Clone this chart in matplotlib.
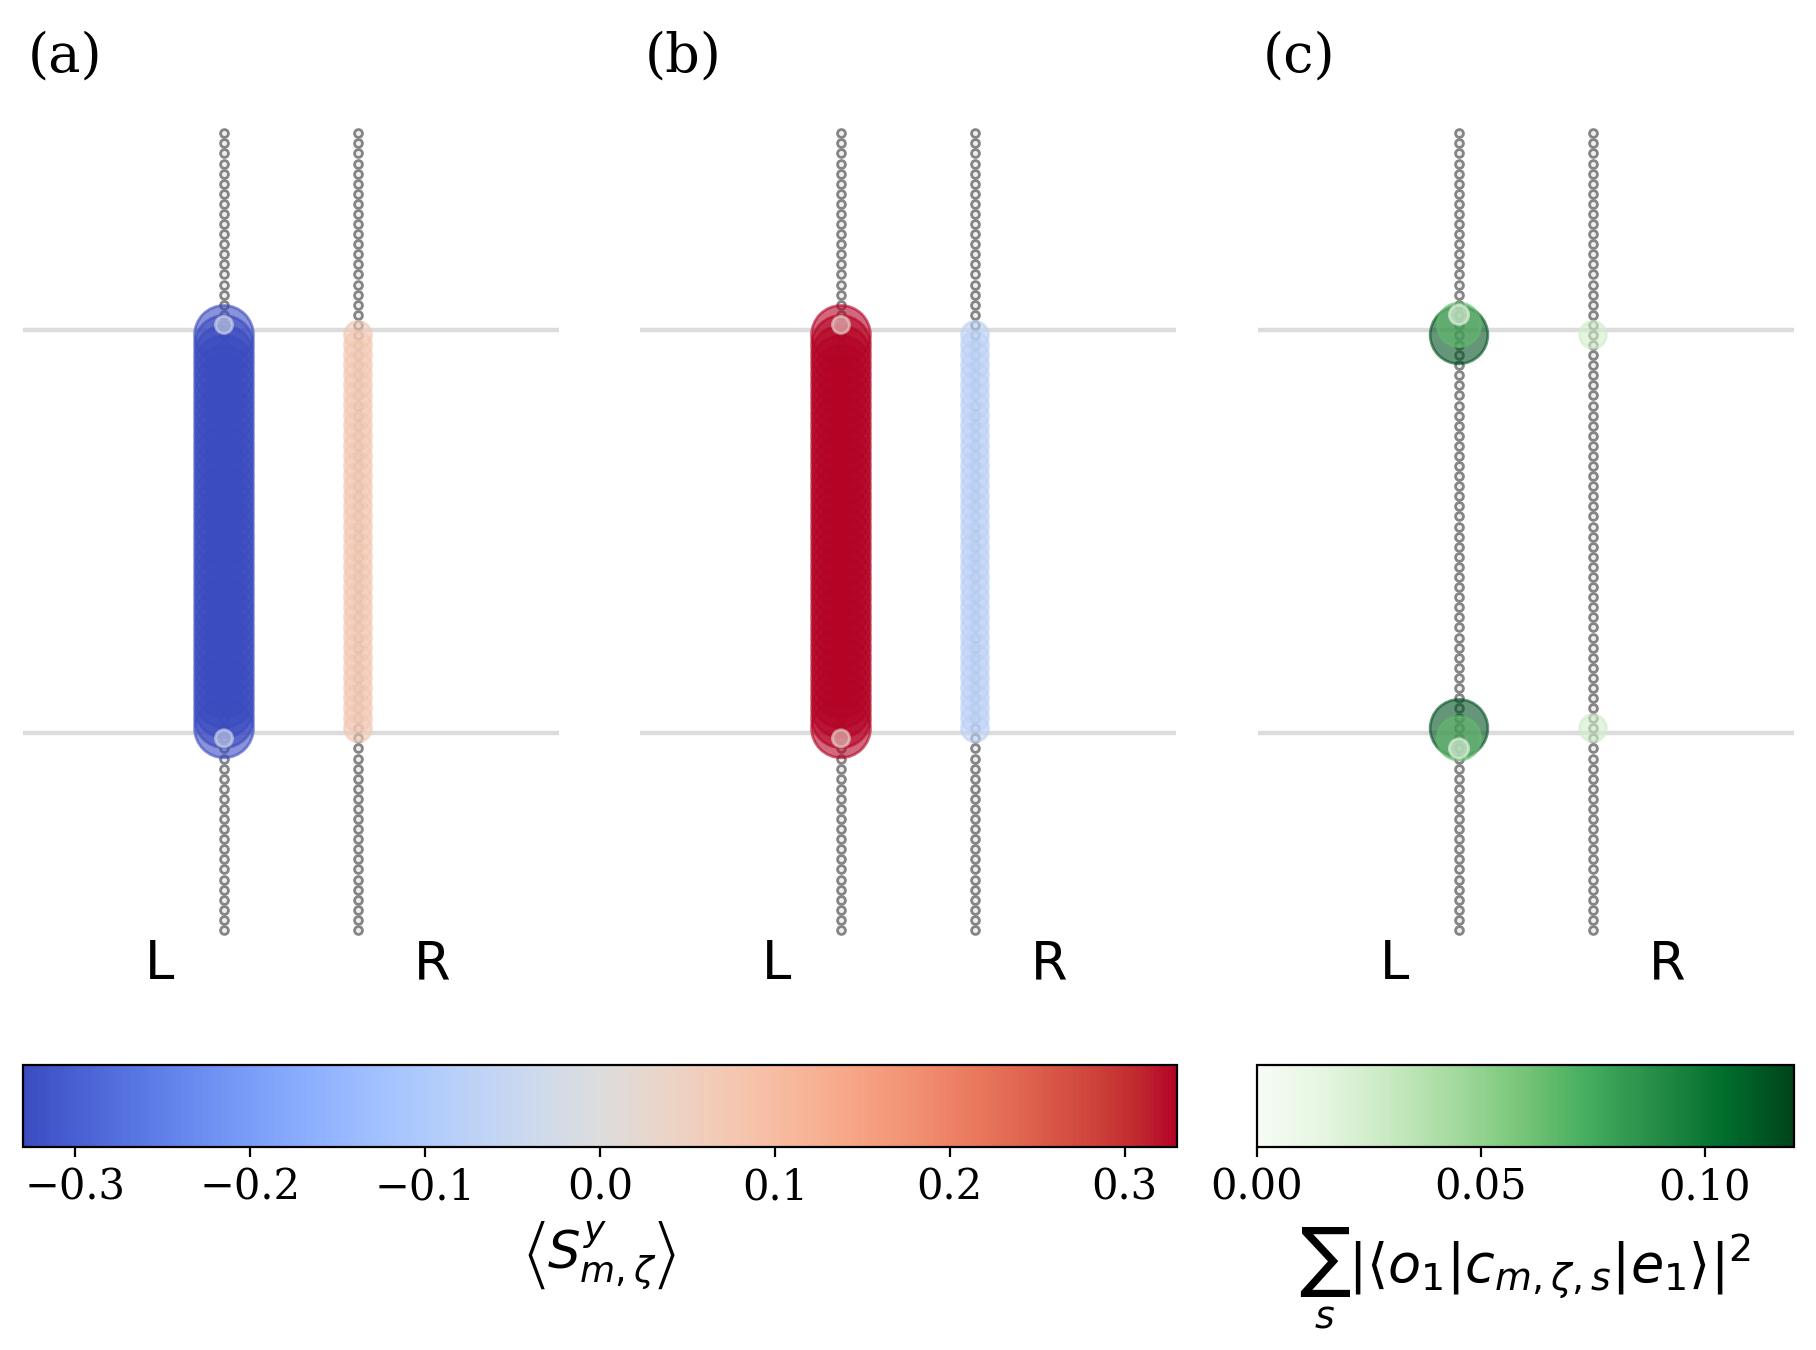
import numpy as np
import matplotlib
matplotlib.use('Agg')
import matplotlib.pyplot as plt
from matplotlib.colors import Normalize
from matplotlib.cm import ScalarMappable

plt.rcParams['font.family'] = 'serif'
plt.rcParams['font.serif'] = ['DejaVu Serif']
plt.rcParams['mathtext.fontset'] = 'dejavusans'

W, H = 1816, 1350
n_sites = 80
chain_x = [0, 1]
lead_rows = [19.5, 59.5]
panel_tags = ['(a)', '(b)', '(c)']
lead_names = ['L', 'R']

# spin expectation per site (site 0 at the top of the chain)
spin_a_L = [0.0]*19 + [-0.028] + [-0.33]*40 + [-0.028] + [0.0]*19
spin_a_R = [0.0]*20 + [0.07]*40 + [0.0]*20
spin_b_L = [0.0]*19 + [0.028] + [0.33]*40 + [0.028] + [0.0]*19
spin_b_R = [0.0]*20 + [-0.07]*40 + [0.0]*20
# transition weight per site
weight_c_L = [0.0]*18 + [0.013, 0.066, 0.115] + [0.0]*38 + [0.115, 0.066, 0.013] + [0.0]*18
weight_c_R = [0.0]*20 + [0.025] + [0.0]*38 + [0.025] + [0.0]*20

spin_ticks = [-0.3, -0.2, -0.1, 0.0, 0.1, 0.2, 0.3]
weight_ticks = [0.00, 0.05, 0.10]
spin_lim = 0.33
weight_lim = 0.12

spin_norm = Normalize(-spin_lim, spin_lim)
weight_norm = Normalize(0, weight_lim)

fig = plt.figure(figsize=(W/200, H/200), dpi=200)


def draw_panel(ax, left, right, cmap, norm, vmax):
    for r in lead_rows:
        ax.axhline(-r, color='#dcdcdc', lw=1.6, zorder=1)
    rows = np.arange(n_sites)
    for x in chain_x:
        ax.scatter(np.full(n_sites, x), -rows, s=8, facecolor='#eeeeee',
                   edgecolor='#858585', linewidths=1.0, zorder=2)
    xs, ys, vs = [], [], []
    for x, vals in zip(chain_x, (left, right)):
        for i, v in enumerate(vals):
            if v != 0:
                xs.append(x); ys.append(-i); vs.append(v)
    xs, ys, vs = np.array(xs), np.array(ys), np.array(vs)
    order = np.argsort(-np.abs(vs))
    ax.scatter(xs[order], ys[order], c=vs[order], cmap=cmap, norm=norm,
               s=450*np.abs(vs[order])/vmax, alpha=0.6, zorder=3)
    ax.set_xlim(-1.5, 2.5)
    ax.set_ylim(-85, 3)
    ax.axis('off')
    ax.text(-0.48, -83.9, lead_names[0], ha='center', va='baseline',
            fontsize=19, family='DejaVu Sans')
    ax.text(1.55, -83.9, lead_names[1], ha='center', va='baseline',
            fontsize=19, family='DejaVu Sans')


lefts = [23, 640, 1258]
data = [(spin_a_L, spin_a_R, 'coolwarm', spin_norm, spin_lim),
        (spin_b_L, spin_b_R, 'coolwarm', spin_norm, spin_lim),
        (weight_c_L, weight_c_R, 'Greens', weight_norm, weight_lim)]
for lx, tag, d in zip(lefts, panel_tags, data):
    ax = fig.add_axes([lx/W, 1 - 990.5/H, 536/W, 887.5/H])
    draw_panel(ax, *d)
    fig.text((lx + 5)/W, 1 - 57/H, tag, ha='left', va='center', fontsize=19.5)

cax1 = fig.add_axes([23/W, 1 - 1147/H, (1177 - 23)/W, 82/H])
cb1 = fig.colorbar(ScalarMappable(spin_norm, 'coolwarm'), cax=cax1, orientation='horizontal')
cb1.set_ticks(spin_ticks)
cb1.ax.tick_params(labelsize=15)
cb1.set_label(r'$\left\langle S^y_{m,\zeta}\right\rangle$', fontsize=18.5)

cax2 = fig.add_axes([1257/W, 1 - 1147/H, (1794 - 1257)/W, 82/H])
cb2 = fig.colorbar(ScalarMappable(weight_norm, 'Greens'), cax=cax2, orientation='horizontal')
cb2.set_ticks(weight_ticks)
cb2.ax.tick_params(labelsize=15)
cb2.set_label(r'$\sum_s|\langle o_1|c_{m,\zeta,s}|e_1\rangle|^2$', fontsize=19.5, labelpad=6)

fig.savefig('out.png', dpi=200)
